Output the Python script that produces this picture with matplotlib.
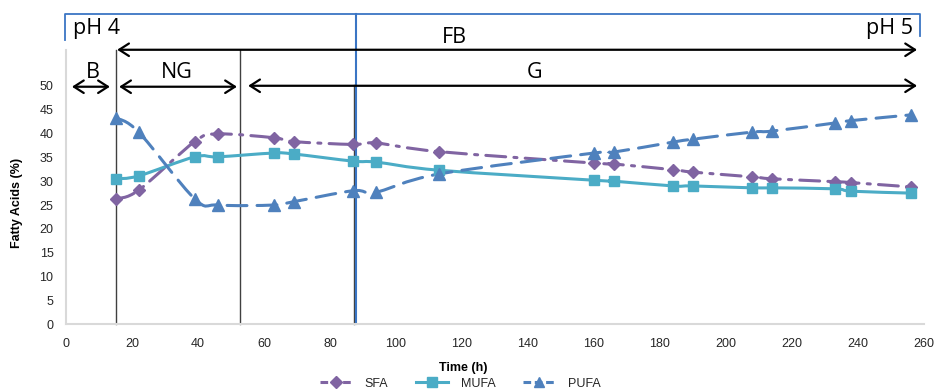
import numpy as np
import matplotlib
matplotlib.use('Agg')
import matplotlib.pyplot as plt
from matplotlib.path import Path
from matplotlib.patches import PathPatch
from matplotlib.lines import Line2D

# sampling times (h) and fatty acid fractions (%)
time_h = [15, 22, 39, 46, 63, 69, 87, 94, 113, 160, 166, 184, 190, 208, 214, 233, 238, 256]
sfa = [26.3, 28.1, 38.3, 39.9, 39.1, 38.3, 37.7, 38.0, 36.2, 33.8, 33.6, 32.4, 31.9, 30.9, 30.5, 29.9, 29.7, 28.8]
mufa = [30.5, 31.1, 35.1, 35.1, 35.9, 35.7, 34.2, 34.0, 32.3, 30.2, 30.0, 29.0, 29.0, 28.6, 28.6, 28.4, 27.9, 27.5]
pufa = [43.3, 40.3, 26.3, 25.0, 25.0, 25.7, 28.0, 27.7, 31.5, 35.9, 36.1, 38.2, 38.8, 40.3, 40.5, 42.2, 42.7, 43.9]

# phase boundaries (h)
t_batch_end = 15.2
t_ng_end = 52.7
t_fb_line = 87.3
t_ph_line = 87.9

xticks = list(range(0, 261, 20))
yticks = list(range(0, 51, 5))

col_sfa = '#8064A2'
col_mufa = '#4BACC6'
col_pufa = '#4F81BD'
txt_col = '#262626'
ann_font = ['Open Sans', 'DejaVu Sans']


def smooth_path(x, y, yscale=1.44):
    # excel-like smoothed line: cubic bezier through every point
    p = np.column_stack([np.asarray(x, float), np.asarray(y, float) * yscale])
    n = len(p)
    verts = [p[0]]
    codes = [Path.MOVETO]
    for i in range(n - 1):
        p0 = p[i - 1] if i > 0 else p[i]
        p3 = p[i + 2] if i + 2 < n else p[i + 1]
        c1 = p[i] + (p[i + 1] - p0) / 6.0
        c2 = p[i + 1] - (p3 - p[i]) / 6.0
        verts += [c1, c2, p[i + 1]]
        codes += [Path.CURVE4] * 3
    verts = np.array(verts)
    verts[:, 1] /= yscale
    return Path(verts, codes)


plt.rcParams['font.family'] = ['Liberation Sans', 'DejaVu Sans']

fig = plt.figure(figsize=(9.39, 3.9), dpi=100)
ax = fig.add_axes([0.0703, 0.1685, 0.9137, 0.7033])

lw = 2.2
series = [
    (sfa, col_sfa, (0, (6.5, 2.7, 1, 2.7)), 'D', 6.5, 'SFA'),
    (mufa, col_mufa, 'solid', 's', 7.5, 'MUFA'),
    (pufa, col_pufa, (0, (6.5, 3.3)), '^', 8, 'PUFA'),
]
handles = []
for vals, c, ls, mk, ms, name in series:
    patch = PathPatch(smooth_path(time_h, vals), fill=False, edgecolor=c,
                      linewidth=lw, linestyle=ls, capstyle='round', zorder=3)
    ax.add_patch(patch)
    ax.plot(time_h, vals, ls='none', marker=mk, ms=ms, color=c, zorder=4)
    handles.append(Line2D([], [], color=c, lw=lw, ls=ls if ls == 'solid' else (0, (2.5, 1.2)),
                          marker=mk, ms=ms * 0.9, label=name))

ax.set_xlim(0, 260)
ax.set_ylim(0, 57.5)
ax.set_xticks(xticks)
ax.set_yticks(yticks)
ax.tick_params(length=0, labelsize=9, labelcolor=txt_col)
ax.tick_params(axis='y', pad=9)
ax.tick_params(axis='x', pad=10)
for s in ['top', 'right']:
    ax.spines[s].set_visible(False)
for s in ['left', 'bottom']:
    ax.spines[s].set_color('#D9D9D9')
    ax.spines[s].set_linewidth(1.5)

ax.set_xlabel('Time (h)', fontsize=9, fontweight='bold', color='black')
ax.xaxis.set_label_coords(0.463, -0.138)
ax.set_ylabel('Fatty Acids (%)', fontsize=9, fontweight='bold', color='black')
ax.yaxis.set_label_coords(-0.050, 0.442)

# phase lines
ax.plot([t_batch_end, t_batch_end], [0, 57.5], color='#404040', lw=1, clip_on=False, zorder=2)
ax.plot([t_ng_end, t_ng_end], [0, 57.5], color='#404040', lw=1, clip_on=False, zorder=2)
ax.plot([t_fb_line, t_fb_line], [0, 50.2], color='#404040', lw=1, clip_on=False, zorder=2)
ax.plot([t_ph_line, t_ph_line], [0, 65.1], color='#3A75C4', lw=1.5, clip_on=False, zorder=2)

# pH box
ax.plot([-0.3, -0.3, 258.8, 258.8], [59.6, 65.1, 65.1, 60.5], color='#3A75C4', lw=1.3,
        clip_on=False, zorder=2)

arrow = dict(arrowstyle='<->,head_length=0.7,head_width=0.45', color='black', lw=1.6,
             shrinkA=0, shrinkB=0)
ax.annotate('', xy=(1.8, 49.8), xytext=(13.3, 49.8), arrowprops=arrow, annotation_clip=False)
ax.annotate('', xy=(16.1, 49.8), xytext=(51.8, 49.8), arrowprops=arrow, annotation_clip=False)
ax.annotate('', xy=(55.2, 50.0), xytext=(257.9, 50.0), arrowprops=arrow, annotation_clip=False)
ax.annotate('', xy=(15.5, 57.55), xytext=(257.9, 57.55), arrowprops=arrow, annotation_clip=False)

ax.text(2.1, 60.85, 'pH 4', fontsize=15.5, family=ann_font, va='baseline', ha='left')
ax.text(256.7, 60.85, 'pH 5', fontsize=15.5, family=ann_font, va='baseline', ha='right')
ax.text(117.6, 59.0, 'FB', fontsize=15.5, family=ann_font, va='baseline', ha='center')
ax.text(8.2, 51.7, 'B', fontsize=15.5, family=ann_font, va='baseline', ha='center')
ax.text(33.6, 51.7, 'NG', fontsize=15.5, family=ann_font, va='baseline', ha='center')
ax.text(142.1, 51.7, 'G', fontsize=15.5, family=ann_font, va='baseline', ha='center')

fig.legend(handles=handles, loc='center', bbox_to_anchor=(0.49, 0.016), ncol=3,
           frameon=False, fontsize=9, handlelength=2.6, columnspacing=2.2,
           handletextpad=1.0, labelcolor=txt_col, borderpad=0.1)

fig.savefig('out.png', dpi=100)
